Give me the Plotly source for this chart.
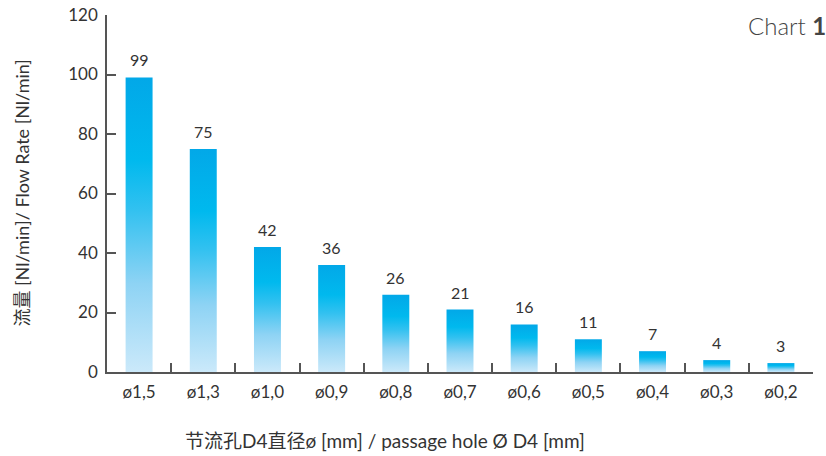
import plotly.graph_objects as go

categories = ["ø1,5", "ø1,3", "ø1,0", "ø0,9", "ø0,8", "ø0,7", "ø0,6", "ø0,5", "ø0,4", "ø0,3", "ø0,2"]
flow_rate = [99, 75, 42, 36, 26, 21, 16, 11, 7, 4, 3]

FONT = "Lato, 'Noto Sans CJK SC', sans-serif"
TXT = "#333333"
AX = "#555555"
bar_half = 0.21
gradient = [[0.0, "#cbe9fa"], [0.3, "#8ed3f4"], [0.55, "#32c1f0"],
            [0.72, "#00b9ee"], [1.0, "#02a8e8"]]

fig = go.Figure()

# gradient bars drawn as filled shapes on an overlaid numeric axis
for i, v in enumerate(flow_rate):
    fig.add_trace(go.Scatter(
        x=[i - bar_half, i + bar_half, i + bar_half, i - bar_half, i - bar_half],
        y=[0, 0, v, v, 0],
        xaxis="x2", mode="lines", fill="toself",
        line=dict(width=0, color="rgba(0,0,0,0)"),
        fillgradient=dict(type="vertical", colorscale=gradient),
        hoverinfo="skip", showlegend=False,
    ))

# invisible markers to anchor the categorical axis
fig.add_trace(go.Scatter(
    x=categories, y=flow_rate, mode="markers",
    marker=dict(size=1, color="rgba(0,0,0,0)"),
    showlegend=False, hovertemplate="%{x}: %{y}<extra></extra>",
))

annotations = [
    dict(x=c, y=v, text=str(v), xref="x", yref="y", showarrow=False,
         xanchor="center", yanchor="bottom", yshift=6,
         font=dict(family=FONT, size=16, color=TXT))
    for c, v in zip(categories, flow_rate)
]
annotations += [
    dict(text="流量 [Nl/min]/ Flow Rate [Nl/min]", textangle=-90,
         xref="paper", yref="paper", x=0, y=0.5, xshift=-86, yshift=0,
         xanchor="center", yanchor="middle", showarrow=False,
         font=dict(family=FONT, size=18, color=TXT)),
    dict(text="节流孔D4直径ø [mm] / passage hole Ø D4 [mm]",
         xref="paper", yref="paper", x=0.394, y=0, yshift=-68,
         xanchor="center", yanchor="middle", showarrow=False,
         font=dict(family=FONT, size=19, color=TXT)),
    dict(text="Chart <b>1</b>", xref="paper", yref="paper",
         x=1, y=1, xshift=15, yshift=-10, xanchor="right", yanchor="middle",
         showarrow=False,
         font=dict(family=FONT, size=24, color="#444444", weight=300)),
]

fig.update_layout(
    width=826, height=456,
    margin=dict(l=107, r=13, t=15, b=84),
    paper_bgcolor="white", plot_bgcolor="white",
    font=dict(family=FONT, color=TXT),
    xaxis=dict(
        type="category", categoryorder="array", categoryarray=categories,
        range=[-0.5, 10.5], tickson="boundaries", ticks="inside", ticklen=9,
        tickcolor=AX, tickwidth=1.5, showline=True, linecolor=AX, linewidth=1.5,
        showgrid=False, zeroline=False, ticklabelstandoff=4, automargin=False,
        tickfont=dict(family=FONT, size=17, color=TXT),
    ),
    xaxis2=dict(overlaying="x", range=[-0.5, 10.5], visible=False),
    yaxis=dict(
        range=[0, 120], dtick=20, ticks="inside", ticklen=9, tickcolor=AX,
        tickwidth=1.5, showline=True, linecolor=AX, linewidth=1.5,
        showgrid=False, zeroline=False, ticklabelstandoff=4, automargin=False,
        tickfont=dict(family=FONT, size=17, color=TXT),
    ),
    annotations=annotations,
)

fig.write_html("out.html", config={"displayModeBar": False},
               post_script="document.body.style.margin='0';")
